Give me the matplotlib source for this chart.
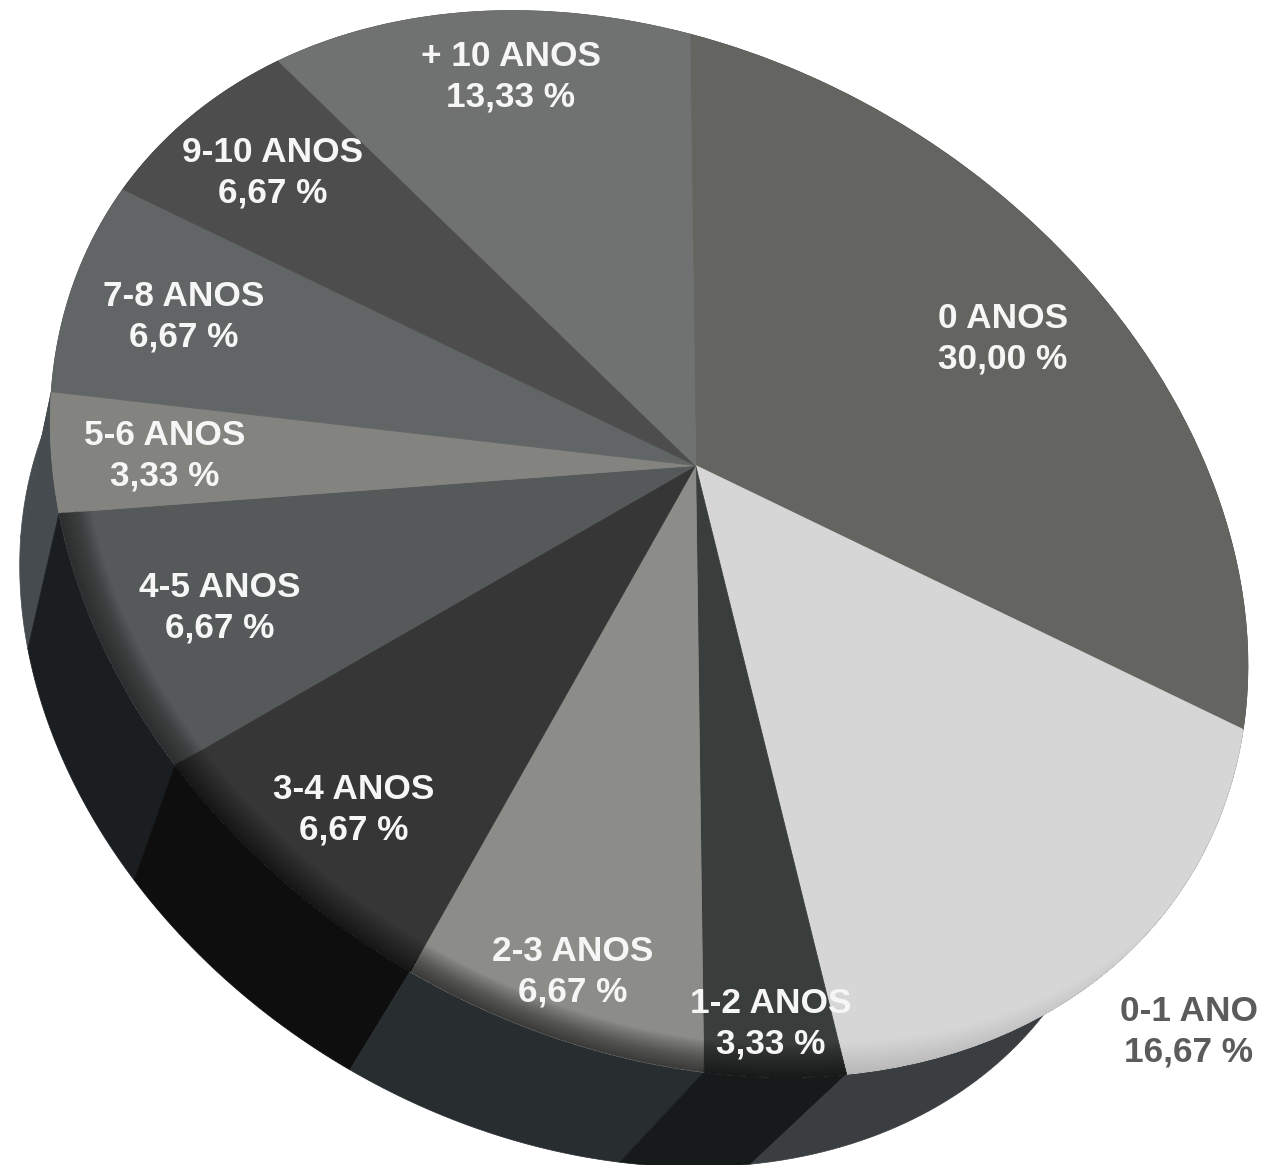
import numpy as np
import matplotlib
matplotlib.use("Agg")
import matplotlib.pyplot as plt
from matplotlib.patches import Wedge
from matplotlib.transforms import Transform

labels = ["0 ANOS", "0-1 ANO", "1-2 ANOS", "2-3 ANOS", "3-4 ANOS", "4-5 ANOS", "5-6 ANOS", "7-8 ANOS", "9-10 ANOS", "+ 10 ANOS"]
values = [30.00, 16.67, 3.33, 6.67, 6.67, 6.67, 3.33, 6.67, 6.67, 13.33]
value_text = ["30,00 %", "16,67 %", "3,33 %", "6,67 %", "6,67 %", "6,67 %", "3,33 %", "6,67 %", "6,67 %", "13,33 %"]

top_colors = ["#646560", "#d6d6d6", "#393e3c", "#8c8c89", "#363636", "#55595a", "#838480", "#626565", "#4d4d4d", "#6f7271"]
wall_colors = ["#3a3e40", "#3a3e40", "#161a1b", "#282d30", "#0e0e0e", "#1a1e20", "#464b4f", "#464b4f", "#464b4f", "#464b4f"]
shadow_alpha = [0.0, 0.1, 0.45, 0.5, 0.45, 0.35, 0.0, 0.0, 0.0, 0.0]
shadow_span = [0.0, 0.6, 1.0, 1.0, 1.0, 1.0, 0.0, 0.0, 0.0, 0.0]

# where the slice borders land on the picture (pixels), used to fit the tilt
rim_pixels = np.array([[692, 35], [1242, 732], [845, 1075], [705, 1077], [415, 965],
                       [175, 765], [58, 515], [48, 393], [124, 192], [278, 60]], float)
apex_pixel = [695, 463]
vanish = np.array([-322.0, 2170.0])
wall_depth = 0.082

label_pos = [(1003, 339), (1189, 1032), (771, 1024), (573, 972), (354, 810),
             (220, 608), (165, 456), (184, 317), (273, 173), (511, 77)]


def fit_tilt(src, dst):
    rows = []
    for (x, y), (u, v) in zip(src, dst):
        rows.append([x, y, 1, 0, 0, 0, -u * x, -u * y, -u])
        rows.append([0, 0, 0, x, y, 1, -v * x, -v * y, -v])
    _, _, vt = np.linalg.svd(np.array(rows))
    return vt[-1].reshape(3, 3)


class Tilt(Transform):
    input_dims = 2
    output_dims = 2
    is_separable = False
    has_inverse = False

    def __init__(self, mat):
        super().__init__()
        self.mat = mat

    def transform_non_affine(self, pts):
        pts = np.asarray(pts)
        q = np.column_stack([pts, np.ones(len(pts))]) @ self.mat.T
        return q[:, :2] / q[:, 2:]


fracs = np.cumsum([0] + values) / sum(values)
unit = np.column_stack([np.sin(2 * np.pi * fracs[:-1]), np.cos(2 * np.pi * fracs[:-1])])
src = np.vstack([unit, [[0, 0]] * 3])
dst = np.vstack([rim_pixels, [apex_pixel] * 3])
tilt = Tilt(fit_tilt(src, dst))

fig = plt.figure(figsize=(12.63, 11.65), dpi=100, facecolor="white")
ax = fig.add_axes([0, 0, 1, 1])

# side wall, back slices first
for i in [0, 9, 8, 7, 6, 5, 4, 3, 2, 1]:
    t = 2 * np.pi * np.linspace(fracs[i], fracs[i + 1], 60)
    rim = tilt.transform(np.column_stack([np.sin(t), np.cos(t)]))
    low = rim + wall_depth * (vanish - rim)
    poly = np.vstack([rim, low[::-1]])
    ax.fill(poly[:, 0], poly[:, 1], color=wall_colors[i], lw=0.5, zorder=1)

wedges, _ = ax.pie(values, colors=top_colors, startangle=90, counterclock=False, radius=1,
                   wedgeprops={"linewidth": 0.6})
trans = tilt + ax.transData
for w in wedges:
    w.set_transform(trans)
    w.set_edgecolor(w.get_facecolor())
    w.set_zorder(2)

# soft dark band along the front rim of the top face
steps = 30
for w, a, span in zip(wedges, shadow_alpha, shadow_span):
    if a == 0:
        continue
    for j, d in enumerate(np.linspace(0.002, 0.045, steps)):
        # a partial band has to fade out, so each layer stops a bit sooner
        s = span if span == 1 else span * (1 - j / steps)
        end = w.theta1 + s * (w.theta2 - w.theta1)
        band = Wedge((0, 0), 1, w.theta1, end, width=d, fc="black", ec="none",
                     alpha=1 - (1 - a) ** (1 / steps), zorder=3)
        band.set_transform(trans)
        ax.add_patch(band)

for i, (x, y) in enumerate(label_pos):
    col = "#5b5b5b" if labels[i] == "0-1 ANO" else "#f6f6f6"
    ax.text(x, y, labels[i] + "\n" + value_text[i], ha="center", va="center", color=col,
            fontsize=25.4, fontweight="bold", family="Liberation Sans", linespacing=1.29, zorder=5)

ax.set_xlim(0, 1263)
ax.set_ylim(1165, 0)
ax.set_aspect("auto")
ax.axis("off")
fig.savefig("out.png", dpi=100)
